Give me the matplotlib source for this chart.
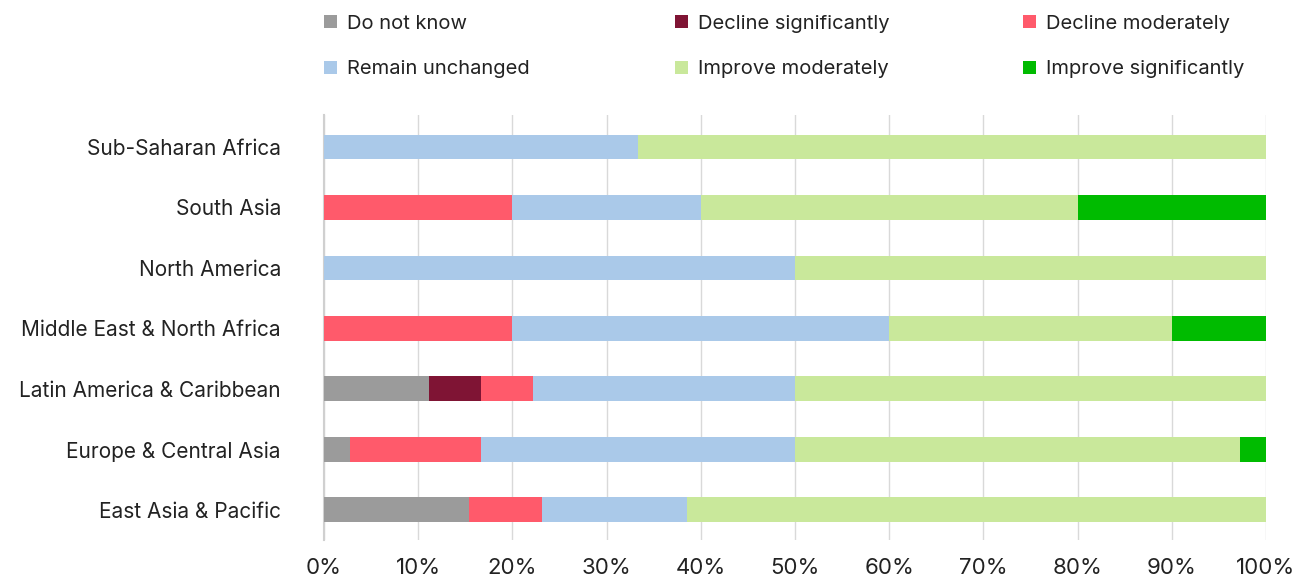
import numpy as np
import matplotlib.pyplot as plt
from matplotlib.ticker import PercentFormatter

plt.rcParams['font.family'] = ['Inter', 'DejaVu Sans']

regions = ['East Asia & Pacific', 'Europe & Central Asia', 'Latin America & Caribbean',
           'Middle East & North Africa', 'North America', 'South Asia', 'Sub-Saharan Africa']
series = ['Do not know', 'Decline significantly', 'Decline moderately',
          'Remain unchanged', 'Improve moderately', 'Improve significantly']
colors = ['#9b9b9b', '#7f1434', '#ff5a6b', '#aac9e9', '#c9e89b', '#00bb00']

# shares in %, one list per region (same order as series)
east_asia = [15.4, 0, 7.7, 15.4, 61.5, 0]
europe = [2.8, 0, 13.9, 33.3, 47.2, 2.8]
latin_am = [11.1, 5.6, 5.5, 27.8, 50.0, 0]
mena = [0, 0, 20.0, 40.0, 30.0, 10.0]
north_am = [0, 0, 0, 50.0, 50.0, 0]
south_asia = [0, 0, 20.0, 20.0, 40.0, 20.0]
ssa = [0, 0, 0, 33.3, 66.7, 0]

data = np.array([east_asia, europe, latin_am, mena, north_am, south_asia, ssa])

fig = plt.figure(figsize=(13.06, 5.81), dpi=100)
ax = fig.add_axes([324 / 1306, 1 - 540 / 581, (1266 - 324) / 1306, (540 - 115) / 581])

y = np.arange(len(regions))
left = np.zeros(len(regions))
handles = []
for i, name in enumerate(series):
    h = ax.barh(y, data[:, i], left=left, height=0.41, color=colors[i], label=name, zorder=3)
    handles.append(h)
    left += data[:, i]

ax.set_xlim(0, 100)
ax.set_ylim(-0.5, 6.53)
ax.set_xticks(np.arange(0, 101, 10))
ax.xaxis.set_major_formatter(PercentFormatter(decimals=0))
ax.set_yticks(y)
ax.set_yticklabels(regions)
ax.tick_params(axis='y', length=0, pad=31, labelsize=15, colors='#222222')
ax.tick_params(axis='x', length=0, pad=13, labelsize=16, colors='#222222')
ax.grid(axis='x', color='#d9d9d9', linewidth=1, zorder=0)
for s in ['top', 'right', 'bottom']:
    ax.spines[s].set_visible(False)
ax.spines['left'].set_color('#d0d0d0')
ax.spines['left'].set_linewidth(1.5)

# legend: three columns of two entries, each column placed on its own
columns = [(0, 3), (1, 4), (2, 5)]
col_x = [306, 657, 1005]
for (a, b), x0 in zip(columns, col_x):
    leg = fig.legend([handles[a], handles[b]], [series[a], series[b]],
                     loc='upper left', bbox_to_anchor=(x0 / 1306, 1.006),
                     frameon=False, fontsize=14.5, handlelength=0.65, handleheight=0.65,
                     handletextpad=0.5, labelspacing=1.38, labelcolor='#222222')

fig.savefig('out.png', dpi=100, facecolor='white')
